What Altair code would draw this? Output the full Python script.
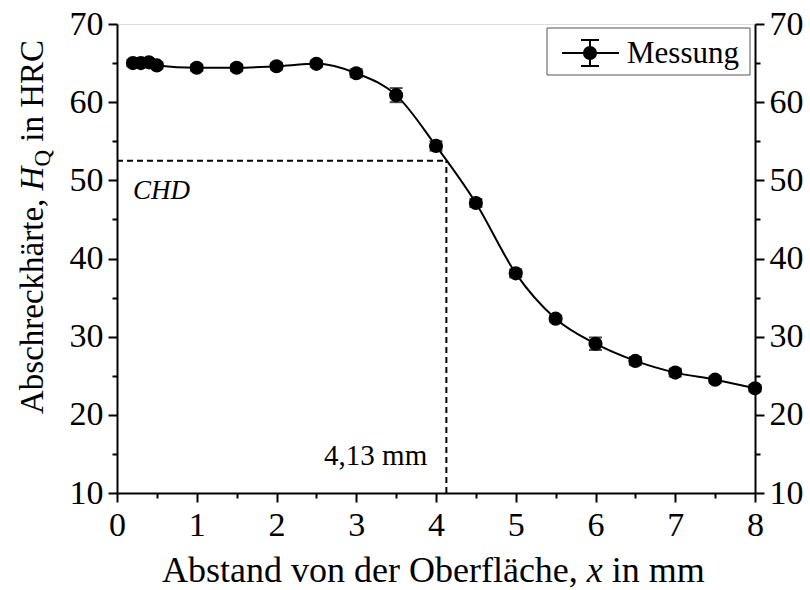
import altair as alt
import pandas as pd

# ---- data ----
dist = [0.2, 0.3, 0.4, 0.5, 1.0, 1.5, 2.0, 2.5, 3.0, 3.5, 4.0, 4.5, 5.0, 5.5, 6.0, 6.5, 7.0, 7.5, 8.0]
hardness = [65.0, 65.0, 65.1, 64.7, 64.4, 64.4, 64.6, 64.9, 63.7, 60.9, 54.4, 47.1, 38.1, 32.3, 29.1, 26.9, 25.4, 24.5, 23.4]
error = [0.4, 0.4, 0.4, 0.4, 0.4, 0.4, 0.4, 0.4, 0.5, 0.9, 0.6, 0.5, 0.5, 0.4, 0.8, 0.5, 0.5, 0.4, 0.4]

chd_depth = [4.13]
chd_hardness = [52.5]
x_ticks = [0, 0.5, 1, 1.5, 2, 2.5, 3, 3.5, 4, 4.5, 5, 5.5, 6, 6.5, 7, 7.5, 8]
y_ticks = [10, 15, 20, 25, 30, 35, 40, 45, 50, 55, 60, 65, 70]

FONT = "Liberation Serif"
W, H = 638, 469

df = pd.DataFrame({
    "x": dist,
    "y": hardness,
    "lo": [h - e for h, e in zip(hardness, error)],
    "hi": [h + e for h, e in zip(hardness, error)],
})
chd_h = pd.DataFrame({"x0": [0.0], "x1": chd_depth, "y": chd_hardness})
chd_v = pd.DataFrame({"x": chd_depth, "y0": [10.0], "y1": chd_hardness})
ann = pd.DataFrame({"x": [0.2, 3.89], "y": [47.6, 13.6], "t": ["CHD", "4,13 mm"]})
one = pd.DataFrame({"a": [0]})

xs = alt.Scale(domain=[0, 8], nice=False, zero=False)
ys = alt.Scale(domain=[10, 70], nice=False, zero=False)

common_axis = dict(
    title=None, labelFont=FONT, labelFontSize=34, labelColor="black",
    domainColor="black", domainWidth=2, tickColor="black", tickWidth=2,
    grid=False, labelFlush=False, labelOverlap=False,
)
x_axis = alt.Axis(
    values=x_ticks, orient="bottom", labelPadding=6,
    labelExpr="datum.value % 1 === 0 ? format(datum.value, 'd') : ''",
    tickSize={"condition": {"test": "datum.value % 1 === 0", "value": 9}, "value": 5},
    **common_axis,
)


def y_axis(orient):
    return alt.Axis(
        values=y_ticks, orient=orient, labelPadding=5,
        labelExpr="datum.value % 10 === 0 ? format(datum.value, 'd') : ''",
        tickSize={"condition": {"test": "datum.value % 10 === 0", "value": 9}, "value": 5},
        **common_axis,
    )


X = alt.X("x:Q", scale=xs, axis=x_axis)

line = alt.Chart(df).mark_line(color="black", strokeWidth=2, interpolate="monotone").encode(
    x=X, y=alt.Y("y:Q", scale=ys, axis=y_axis("left"))
)
bars = alt.Chart(df).mark_rule(color="black", strokeWidth=2).encode(
    x=X, y=alt.Y("lo:Q", scale=ys, axis=None), y2="hi:Q"
)
cap_lo = alt.Chart(df).mark_tick(color="black", thickness=2, size=13, orient="horizontal").encode(
    x=X, y=alt.Y("lo:Q", scale=ys, axis=None)
)
cap_hi = alt.Chart(df).mark_tick(color="black", thickness=2, size=13, orient="horizontal").encode(
    x=X, y=alt.Y("hi:Q", scale=ys, axis=None)
)
pts = alt.Chart(df).mark_circle(color="black", opacity=1, size=200).encode(
    x=X, y=alt.Y("y:Q", scale=ys, axis=None)
)

dash_h = alt.Chart(chd_h).mark_rule(color="black", strokeWidth=2, strokeDash=[6, 4]).encode(
    x=alt.X("x0:Q", scale=xs, axis=x_axis), x2="x1:Q",
    y=alt.Y("y:Q", scale=ys, axis=y_axis("right")),
)
dash_v = alt.Chart(chd_v).mark_rule(color="black", strokeWidth=2, strokeDash=[6, 4]).encode(
    x=alt.X("x:Q", scale=xs, axis=x_axis),
    y=alt.Y("y0:Q", scale=ys, axis=None), y2="y1:Q",
)

ann_chd = alt.Chart(ann.iloc[[0]]).mark_text(
    font=FONT, fontSize=27, fontStyle="italic", align="left", baseline="alphabetic", color="black"
).encode(x=alt.X("x:Q", scale=xs, axis=x_axis), y=alt.Y("y:Q", scale=ys, axis=None), text="t:N")
ann_mm = alt.Chart(ann.iloc[[1]]).mark_text(
    font=FONT, fontSize=29, align="right", baseline="alphabetic", color="black"
).encode(x=alt.X("x:Q", scale=xs, axis=x_axis), y=alt.Y("y:Q", scale=ys, axis=None), text="t:N")


def txt(s, x, y, size, style="normal", angle=0, dy=0):
    kw = dict(font=FONT, fontSize=size, fontStyle=style, align="left",
              baseline="alphabetic", color="black", text=s, dy=dy)
    if angle:
        kw["angle"] = angle
    return alt.Chart(one).mark_text(**kw).encode(x=alt.value(x), y=alt.value(y))


# x-axis title: "Abstand von der Oberfläche, x in mm"
FX = 36
x0 = 45
xt1 = txt("Abstand von der Oberfläche,", x0, 558, FX)
xt2 = txt("x", x0 + 11.802 * FX, 558, FX, "italic")
xt3 = txt("in mm", x0 + (11.802 + 0.444 + 0.25) * FX, 558, FX)

# y-axis title: "Abschreckhärte, H_Q in HRC" (rotated)
FY = 33
yb = 390
bx = -74
yt1 = txt("Abschreckhärte,", bx, yb, FY, angle=270)
yh = yb - 6.775 * FY
yt2 = txt("H", bx, yh, FY, "italic", angle=270)
yq = yh - 0.722 * FY
yt3 = txt("Q", bx, yq, round(FY * 0.7), angle=270, dy=7)
yi = yq - 0.722 * FY * 0.7 - 0.25 * FY
yt4 = txt("in HRC", bx, yi, FY, angle=270)

# legend
leg_box = alt.Chart(one).mark_rect(fill="white", stroke="#555555", strokeWidth=1).encode(
    x=alt.value(430), x2=alt.value(633), y=alt.value(4), y2=alt.value(51))
leg_line = alt.Chart(one).mark_rule(color="black", strokeWidth=2).encode(
    x=alt.value(445), x2=alt.value(502), y=alt.value(29))
leg_bar = alt.Chart(one).mark_rule(color="black", strokeWidth=2).encode(
    x=alt.value(473), y=alt.value(16), y2=alt.value(42))
leg_cap1 = alt.Chart(one).mark_rule(color="black", strokeWidth=2).encode(
    x=alt.value(464), x2=alt.value(482), y=alt.value(16))
leg_cap2 = alt.Chart(one).mark_rule(color="black", strokeWidth=2).encode(
    x=alt.value(464), x2=alt.value(482), y=alt.value(42))
leg_pt = alt.Chart(one).mark_circle(color="black", opacity=1, size=200).encode(
    x=alt.value(473), y=alt.value(29))
leg_txt = txt("Messung", 510, 39, 31)

chart = alt.layer(
    line, dash_h, dash_v, bars, cap_lo, cap_hi, pts, ann_chd, ann_mm,
    xt1, xt2, xt3, yt1, yt2, yt3, yt4,
    leg_box, leg_line, leg_bar, leg_cap1, leg_cap2, leg_pt, leg_txt,
).resolve_axis(y="independent").properties(
    width=W, height=H,
    padding={"left": 117, "top": 24, "right": 55, "bottom": 97},
    autosize=alt.AutoSizeParams(type="none"),
).configure_view(stroke="black", strokeWidth=2).configure(background="white")

chart.save("out.html", embed_options={"renderer": "svg", "actions": False})
